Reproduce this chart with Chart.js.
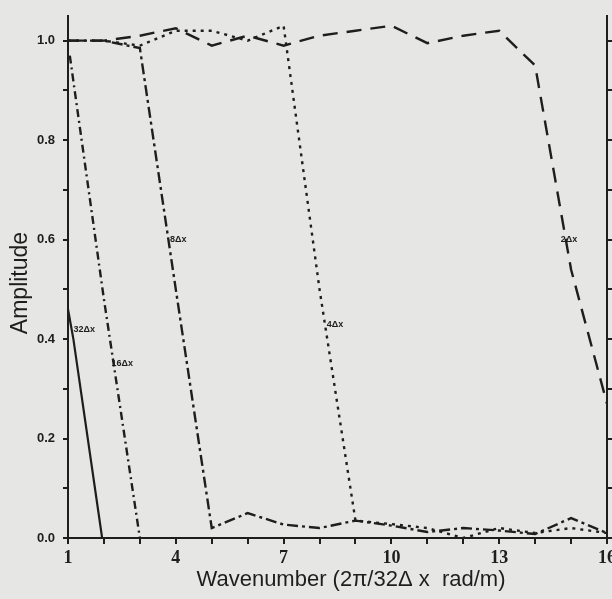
<!DOCTYPE html>
<html>
<head>
<meta charset="utf-8">
<script src="https://cdn.jsdelivr.net/npm/chart.js@4/dist/chart.umd.min.js"></script>
<style>
  html, body { margin: 0; padding: 0; background: #e6e6e4; }
  #wrap { width: 612px; height: 599px; position: relative; }
</style>
</head>
<body>
<div id="wrap"><canvas id="chart"></canvas></div>
<script>
const wavenumbers = [1, 2, 3, 4, 5, 6, 7, 8, 9, 10, 11, 12, 13, 14, 15, 16];
const xTickLabels = [1, 4, 7, 10, 13, 16];
const yTickLabels = [0.0, 0.2, 0.4, 0.6, 0.8, 1.0];

// filter responses
const amp2dx = [1.0, 1.0, 1.01, 1.025, 0.99, 1.01, 0.99, 1.01, 1.02, 1.03, 0.995, 1.01, 1.02, 0.95, 0.54, 0.27];
const amp4dx = [1.0, 1.0, 0.99, 1.02, 1.02, 1.0, 1.03, 0.5, 0.035, 0.028, 0.02, 0.0, 0.02, 0.01, 0.02, 0.01];
const amp8dx = [1.0, 1.0, 0.985, 0.5, 0.02, 0.05, 0.027, 0.02, 0.035, 0.025, 0.012, 0.02, 0.015, 0.008, 0.04, 0.01];
const x16dx = [1.05, 2, 3];
const amp16dx = [0.97, 0.48, 0.0];
const x32dx = [1.0, 1.15, 1.95];
const amp32dx = [0.46, 0.40, 0.0];

const curveNames = ['32Δx', '16Δx', '8Δx', '4Δx', '2Δx'];
const curveLabelX = [1.45, 2.51, 4.07, 8.43, 14.94];
const curveLabelY = [0.42, 0.35, 0.60, 0.43, 0.60];

const xTitle = 'Wavenumber (2π/32Δ x  rad/m)';
const yTitle = 'Amplitude';

const ink = '#1e1e1e';
const pts = (xs, ys) => ys.map((v, i) => ({ x: xs[i], y: v }));

const curveLabels = {
    id: 'curveLabels',
    afterDatasetsDraw(chart) {
        const { ctx, scales } = chart;
        ctx.save();
        ctx.fillStyle = ink;
        ctx.font = 'bold 9px "Liberation Sans", Arial, sans-serif';
        ctx.textAlign = 'center';
        ctx.textBaseline = 'middle';
        curveNames.forEach((t, i) => {
            ctx.fillText(t, scales.x.getPixelForValue(curveLabelX[i]), scales.y.getPixelForValue(curveLabelY[i]));
        });
        ctx.restore();
    }
};

// axis titles sit a bit off-centre in the scan, so place them by hand
const axisTitles = {
    id: 'axisTitles',
    afterDraw(chart) {
        const { ctx } = chart;
        ctx.save();
        ctx.fillStyle = ink;
        ctx.textAlign = 'center';
        ctx.font = '22px "Liberation Sans", Arial, sans-serif';
        ctx.textBaseline = 'alphabetic';
        ctx.fillText(xTitle, 351, 586);
        ctx.translate(27, 283);
        ctx.rotate(-Math.PI / 2);
        ctx.font = '23px "Liberation Sans", Arial, sans-serif';
        ctx.fillText(yTitle, 0, 0);
        ctx.restore();
    }
};

const line = (data, dash, width) => ({
    data: data,
    borderColor: ink,
    borderWidth: width || 2.4,
    borderDash: dash,
    pointRadius: 0,
    tension: 0,
    fill: false
});

new Chart(document.getElementById('chart'), {
    type: 'line',
    data: {
        datasets: [
            line(pts(wavenumbers, amp2dx), [15, 9]),
            line(pts(wavenumbers, amp4dx), [3, 5]),
            line(pts(wavenumbers, amp8dx), [11, 4, 3, 4]),
            line(pts(x16dx, amp16dx), [8, 4, 2, 4]),
            line(pts(x32dx, amp32dx), [], 2.2)
        ]
    },
    options: {
        responsive: true,
        maintainAspectRatio: false,
        animation: false,
        layout: { padding: { top: 11, left: 0, right: 0, bottom: 0 } },
        plugins: { legend: { display: false }, tooltip: { enabled: false } },
        scales: {
            x: {
                type: 'linear',
                min: 1, max: 16,
                border: { display: true, color: ink, width: 2 },
                grid: { display: true, drawOnChartArea: false, drawTicks: true, tickLength: 6, color: ink, lineWidth: 2 },
                ticks: {
                    stepSize: 1,
                    autoSkip: false,
                    maxRotation: 0,
                    padding: 4,
                    color: ink,
                    font: { family: '"Liberation Serif", serif', size: 18, weight: 'bold' },
                    callback: v => xTickLabels.includes(v) ? String(v) : ''
                },
                // let the "16" run off the edge like in the scan
                afterFit: s => { s.height = 61; s.paddingLeft = 0; s.paddingRight = 0; }
            },
            y: {
                min: 0, max: 1.05,
                border: { display: true, color: ink, width: 2 },
                grid: { display: true, drawOnChartArea: false, drawTicks: true, tickLength: 5, color: ink, lineWidth: 2 },
                ticks: {
                    stepSize: 0.1,
                    includeBounds: false,
                    autoSkip: false,
                    padding: 8,
                    color: ink,
                    font: { family: '"Liberation Sans", Arial, sans-serif', size: 13, weight: 'bold' },
                    callback: v => yTickLabels.some(t => Math.abs(t - v) < 1e-6) ? v.toFixed(1) : ''
                },
                afterFit: s => { s.width = 68; }
            },
            y2: {
                position: 'right',
                min: 0, max: 1.05,
                border: { display: true, color: ink, width: 2 },
                grid: { display: true, drawOnChartArea: false, drawTicks: true, tickLength: 5, color: ink, lineWidth: 2 },
                ticks: { stepSize: 0.1, includeBounds: false, display: false },
                afterFit: s => { s.width = 5; }
            }
        }
    },
    plugins: [curveLabels, axisTitles]
});
</script>
</body>
</html>
